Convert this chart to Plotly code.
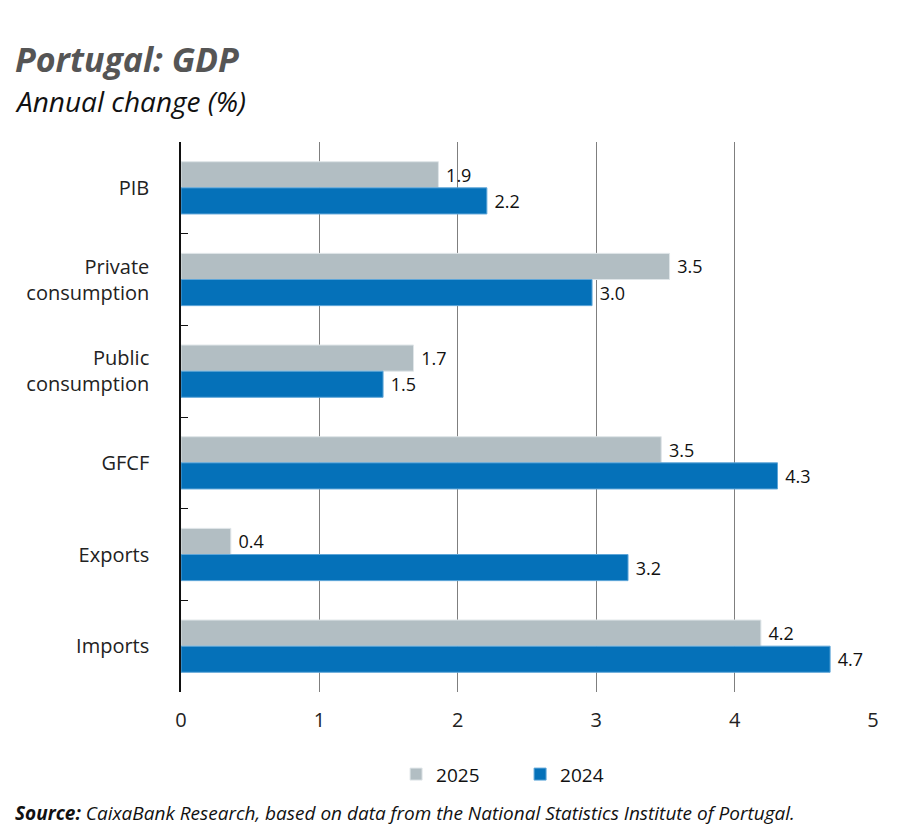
import plotly.graph_objects as go

categories = ["PIB", "Private<br>consumption", "Public<br>consumption", "GFCF", "Exports", "Imports"]
values_2025 = [1.86, 3.53, 1.68, 3.47, 0.36, 4.19]
values_2024 = [2.21, 2.97, 1.46, 4.31, 3.23, 4.69]
x_ticks = [0, 1, 2, 3, 4, 5]

GRAY = "#b2bec3"
BLUE = "#0571b9"
FONT = "Open Sans"

fig = go.Figure()

fig.add_trace(go.Bar(
    y=categories, x=values_2025, name="2025", orientation="h",
    marker=dict(color=GRAY, line=dict(color="#dfe5e8", width=1)),
    texttemplate="\u00a0%{x:.1f}", textposition="outside",
    textfont=dict(size=18, color="#111", family=FONT), cliponaxis=False,
))
fig.add_trace(go.Bar(
    y=categories, x=values_2024, name="2024", orientation="h",
    marker=dict(color=BLUE, line=dict(color="#5fa6d8", width=1)),
    texttemplate="\u00a0%{x:.1f}", textposition="outside",
    textfont=dict(size=18, color="#111", family=FONT), cliponaxis=False,
))

# the page body has an 8px margin, so the figure starts at (8, 8) in the window
fig.update_layout(
    width=892, height=827,
    paper_bgcolor="white", plot_bgcolor="white",
    font=dict(family=FONT, color="#222"),
    barmode="group", bargap=0.43, bargroupgap=0,
    margin=dict(l=173, r=27, t=134, b=143),
    showlegend=True,
    legend=dict(orientation="h", x=0.49, xanchor="center", y=-0.115, yanchor="top",
                font=dict(size=19, color="#111"), traceorder="normal",
                itemwidth=30, entrywidthmode="pixels", entrywidth=79),
)

# titles placed in window pixels relative to the plot area
pw, ph = 692, 550
def px_x(px):
    return (px - 181) / pw
def px_y(py):
    return (692 - py) / ph

fig.add_annotation(text="<b><i>Portugal: GDP</i></b>", xref="paper", yref="paper",
                   x=px_x(13), y=px_y(59), xanchor="left", yanchor="middle",
                   showarrow=False, font=dict(size=34, color="#555", family=FONT))
fig.add_annotation(text="<i>Annual change (%)</i>", xref="paper", yref="paper",
                   x=px_x(13), y=px_y(101), xanchor="left", yanchor="middle",
                   showarrow=False, font=dict(size=28, color="#111", family=FONT))
fig.add_annotation(text="<b><i>Source:</i></b><i> CaixaBank Research, based on data from the National Statistics Institute of Portugal.</i>",
                   xref="paper", yref="paper",
                   x=px_x(13), y=px_y(813), xanchor="left", yanchor="middle",
                   showarrow=False, font=dict(size=19, color="#111", family=FONT))

fig.update_xaxes(
    range=[0, 5], tickvals=x_ticks, showgrid=True, gridcolor="#7f7f7f", gridwidth=1,
    zeroline=False, showline=False, ticks="",
    tickfont=dict(size=20, color="#222"), ticklabelstandoff=14,
)
fig.update_yaxes(
    autorange="reversed", showline=True, linecolor="#111", linewidth=1.5,
    ticks="inside", tickson="boundaries", ticklen=7, tickcolor="#111",
    tickfont=dict(size=20, color="#222"), ticklabelstandoff=26,
    showgrid=False,
)

fig.write_html("out.html")
